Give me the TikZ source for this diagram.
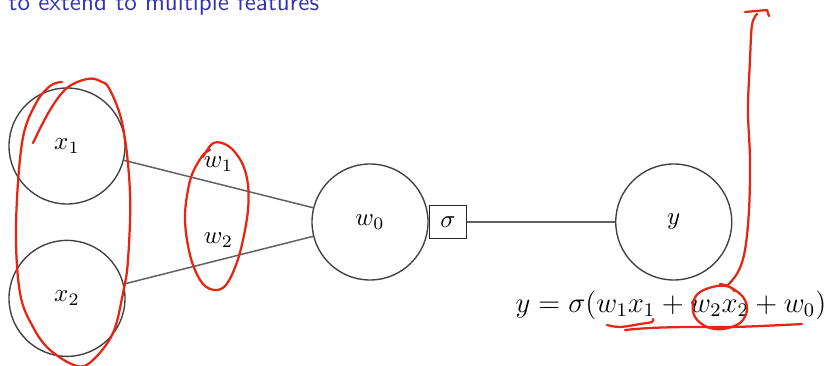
\documentclass[tikz,border=0pt]{standalone}
\usepackage{amsmath,amssymb}
\usepackage{xcolor}
\usepackage{tikz}
\usetikzlibrary{positioning}
\definecolor{lrblue}{RGB}{51,51,178}
\definecolor{lrgray}{RGB}{65,65,65}
\definecolor{lrred}{RGB}{228,38,18}
\tikzset{
  lrunit/.style={circle, draw=lrgray, line width=0.55pt, minimum size=46.4pt, inner sep=0pt},
  lrgate/.style={draw=black!85, line width=0.55pt, minimum width=14.8pt,
    minimum height=13.2pt, inner sep=0pt},
  lredge/.style={line width=0.6pt, draw=black!62},
  lrhand/.style={draw=lrred, line width=0.9pt, line cap=round, line join=round},
  lrtitle/.style={font=\sffamily, text=lrblue, inner sep=0pt}
}

\begin{document}
\begin{tikzpicture}[x=0.4pt, y=-0.4pt, node distance=14pt]
  \useasboundingbox (0,0) rectangle (829,366);
  \node[lrtitle, anchor=base west] (head) at (8,11) {to extend to multiple features};
  \node[lrunit] (x1) at (67,146) {$x_1$};
  \node[lrunit, below=of x1] (x2) {$x_2$};
  \node[lrunit] (w0) at (370,222) {$w_0$};
  \node[lrgate, right=0pt of w0] (sig) {$\sigma$};
  \node[lrunit, right=59.2pt of sig] (y) {$y$};
  \node[font=\large, scale=0.96] (eqn) at (671,305) {$y = \sigma(w_1x_1 + w_2x_2 + w_0)$};
  \draw[lredge] (x1) -- node[midway, above=1.5pt] (lw1) {$w_1$} (w0);
  \draw[lredge] (x2) -- node[midway, above=1.5pt] (lw2) {$w_2$} (w0);
  \draw[lredge] (sig) -- (y);
  \draw[lrhand] plot[smooth, tension=0.6] coordinates {(33,143) (50,110) (67,88) (87,79) (100,81)
    (110,90) (123,127) (130,193) (128,260) (123,293) (113,333) (93,360) (77,366) (50,350)
    (33,327) (20,293) (16,227) (22,143) (35,105) (50,86) (62,82)};
  \draw[lrhand] plot[smooth, tension=0.6] coordinates {(203,157) (212,144) (222,143) (233,150)
    (243,165) (248,185) (248,210) (243,240) (236,265) (226,285) (215,290) (203,284) (193,265)
    (187,240) (185,215) (188,190) (193,172) (203,155) (210,150)};
  \draw[lrhand] (745,12) -- (767,10) -- (769,16);
  \draw[lrhand] plot[smooth, tension=0.6] coordinates {(757,14) (752,25) (750,60) (748,110)
    (750,160) (749,210) (745,250) (738,272) (727,286)};
  \draw[lrhand] plot[smooth, tension=0.6] coordinates {(720,284) (730,287) (743,297) (747,310)
    (740,323) (723,329) (707,327) (695,317) (693,303) (700,292) (717,286) (730,287) (734,291)};
  \draw[lrhand] plot[smooth, tension=0.6] coordinates {(607,325) (620,327) (640,324) (652,322) (653,319)};
  \draw[lrhand] plot[smooth, tension=0.6] coordinates {(625,330) (650,328) (687,327) (733,327)
    (783,325) (802,324)};
\end{tikzpicture}
\end{document}
